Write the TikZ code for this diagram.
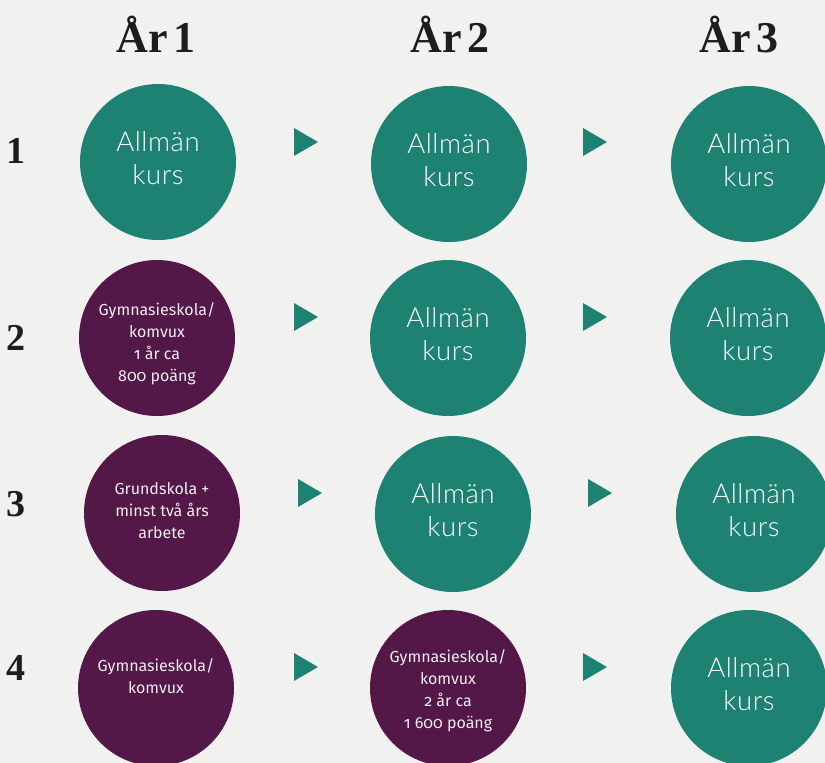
\documentclass[tikz,border=0pt]{standalone}
\usepackage{fontspec}
\setmainfont{Liberation Serif}
\newfontfamily\bigfont{Lato Light}[LetterSpace=2]
\newfontfamily\smallfont{Fira Sans}[Numbers=OldStyle]
\definecolor{tealc}{RGB}{30,130,114}
\definecolor{plumc}{RGB}{83,23,72}
\definecolor{bgc}{RGB}{241,241,239}
\definecolor{inkc}{RGB}{30,28,28}
\begin{document}
\begin{tikzpicture}[x=1pt,y=-1pt,
  dot/.style={circle, minimum size=156pt, inner sep=0pt},
  tealdot/.style={dot, fill=tealc},
  plumdot/.style={dot, fill=plumc},
  bigtxt/.style={font=\bigfont\fontsize{27.5}{33}\selectfont, text=white, align=center, inner sep=0pt},
  smalltxt/.style={font=\smallfont\fontsize{16}{22}\selectfont, text=white!92!plumc, align=center, inner sep=0pt},
  head/.style={font=\bfseries\fontsize{44}{44}\selectfont, text=inkc, inner sep=0pt, anchor=base},
  rownum/.style={font=\bfseries\fontsize{38}{38}\selectfont, text=inkc, inner sep=0pt, anchor=base west},
  tri/.style={fill=tealc}
]
\fill[bgc] (0,0) rectangle (825,763);
\useasboundingbox (0,0) rectangle (825,763);

% headers
\node[head] (h1) at (156,52) {År\hspace{5pt}1};
\node[head] (h2) at (450,52) {År\hspace{5pt}2};
\node[head] (h3) at (739,52) {År\hspace{5pt}3};

% row numbers
\node[rownum] (r1) at (6,163) {1};
\node[rownum] (r2) at (6,350) {2};
\node[rownum] (r3) at (6,516) {3};
\node[rownum] (r4) at (6,680) {4};

% row 1
\node[tealdot] (c11) at (158,162) {};
\node[tealdot] (c12) at (449,164) {};
\node[tealdot] (c13) at (749,164) {};
\node[bigtxt] (t11) at ([yshift=4pt]c11) {Allmän\\kurs};
\node[bigtxt] (t12) at ([yshift=4pt]c12) {Allmän\\kurs};
\node[bigtxt] (t13) at ([yshift=4pt]c13) {Allmän\\kurs};

% row 2
\node[plumdot] (c21) at (157,338) {};
\node[tealdot] (c22) at (448,338) {};
\node[tealdot] (c23) at (748,338) {};
\node[smalltxt] (t21) at ([yshift=-6pt]c21) {Gymnasieskola/\\komvux\\1 år ca\\800 poäng};
\node[bigtxt] (t22) at ([yshift=4pt]c22) {Allmän\\kurs};
\node[bigtxt] (t23) at ([yshift=4pt]c23) {Allmän\\kurs};

% row 3
\node[plumdot] (c31) at (162,513) {};
\node[tealdot] (c32) at (453,514) {};
\node[tealdot] (c33) at (754,514) {};
\node[smalltxt] (t31) at ([yshift=2pt]c31) {Grundskola +\\minst två års\\arbete};
\node[bigtxt] (t32) at ([yshift=4pt]c32) {Allmän\\kurs};
\node[bigtxt] (t33) at ([yshift=4pt]c33) {Allmän\\kurs};

% row 4
\node[plumdot] (c41) at (156,688) {};
\node[plumdot] (c42) at (448,688) {};
\node[tealdot] (c43) at (749,688) {};
\node[smalltxt] (t41) at ([yshift=12pt]c41) {Gymnasieskola/\\komvux};
\node[smalltxt] (t42) at ([yshift=-3pt]c42) {Gymnasieskola/\\komvux\\2 år ca\\1~600 poäng};
\node[bigtxt] (t43) at ([yshift=4pt]c43) {Allmän\\kurs};

% triangles
\newcommand\playtri[2]{\fill[tri] (#1,#2-14) -- (#1+24,#2) -- (#1,#2+14) -- cycle;}
\playtri{294}{142}\playtri{583}{142}
\playtri{294}{317}\playtri{583}{317}
\playtri{298}{493}\playtri{588}{493}
\playtri{294}{667}\playtri{583}{667}
\end{tikzpicture}
\end{document}
